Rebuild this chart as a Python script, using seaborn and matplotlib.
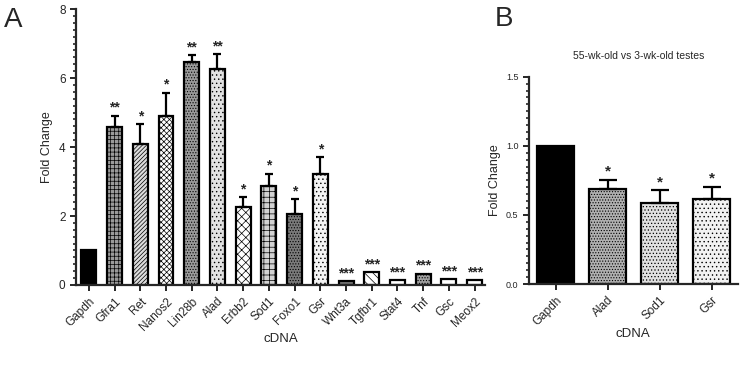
import matplotlib
matplotlib.use("Agg")
import matplotlib.pyplot as plt
import seaborn as sns
import numpy as np
import pandas as pd
from matplotlib.ticker import MultipleLocator

# ---- Data ----
genes_a = ["Gapdh", "Gfra1", "Ret", "Nanos2", "Lin28b", "Alad", "Erbb2", "Sod1",
           "Foxo1", "Gsr", "Wnt3a", "Tgfbr1", "Stat4", "Tnf", "Gsc", "Meox2"]
fold_a = [1.0, 4.58, 4.10, 4.91, 6.47, 6.27, 2.25, 2.88, 2.07, 3.22,
          0.12, 0.38, 0.14, 0.33, 0.18, 0.15]
err_a = [0.0, 0.33, 0.57, 0.67, 0.20, 0.42, 0.31, 0.35, 0.43, 0.48,
         0.0, 0.0, 0.0, 0.0, 0.0, 0.0]
stars_a = ["", "**", "*", "*", "**", "**", "*", "*", "*", "*",
           "***", "***", "***", "***", "***", "***"]

genes_b = ["Gapdh", "Alad", "Sod1", "Gsr"]
fold_b = [1.0, 0.69, 0.585, 0.615]
err_b = [0.0, 0.065, 0.095, 0.09]
stars_b = ["", "*", "*", "*"]

colors_a = ["#000000", "#9a9a9a", "#dddddd", "#ffffff", "#9a9a9a", "#e2e2e2",
            "#ffffff", "#d2d2d2", "#7a7a7a", "#f4f4f4", "#7a7a7a", "#ffffff",
            "#ffffff", "#a0a0a0", "#ffffff", "#ffffff"]
hatches_a = ["", "++++", "////////", "xxxxxx", "......", "....", "xxxx", "+++",
             "......", "....", "", "\\\\\\\\", "", "......", "", ""]
colors_b = ["#000000", "#b0b0b0", "#e0e0e0", "#f2f2f2"]
hatches_b = ["", "......", ".....", "...."]

sns.set_style("ticks")
plt.rcParams["font.family"] = ["Liberation Sans", "DejaVu Sans"]
plt.rcParams["hatch.linewidth"] = 0.5
plt.rcParams["hatch.color"] = "#000000"

fig = plt.figure(figsize=(7.5, 3.65), dpi=100)
axA = fig.add_axes([0.1013, 0.2192, 0.5453, 0.756])
axB = fig.add_axes([0.7053, 0.2219, 0.2783, 0.568])

dfA = pd.DataFrame({"gene": genes_a, "fold": fold_a})
dfB = pd.DataFrame({"gene": genes_b, "fold": fold_b})


def draw(ax, df, genes, vals, errs, stars, colors, hatches, width, capsize, star_fs):
    sns.barplot(data=df, x="gene", y="fold", hue="gene", order=genes, hue_order=genes,
                palette=colors, legend=False, width=width, ax=ax,
                edgecolor="black", linewidth=1.6, errorbar=None, saturation=1)
    for p, h in zip(ax.patches, hatches):
        p.set_hatch(h)
    x = np.arange(len(genes))
    e = np.array(errs)
    m = e > 0
    ax.errorbar(x[m], np.array(vals)[m], yerr=[np.zeros(m.sum()), e[m]],
                fmt="none", ecolor="black", elinewidth=1.6, capsize=capsize,
                capthick=1.6, zorder=3)
    for xi, v, er, s in zip(x, vals, errs, stars):
        if s:
            ax.annotate(s, (xi, v + er), xytext=(0, 0.5), textcoords="offset points",
                        ha="center", va="bottom", fontsize=star_fs, fontweight="bold")
    for sp in ["top", "right"]:
        ax.spines[sp].set_visible(False)
    for sp in ["left", "bottom"]:
        ax.spines[sp].set_linewidth(1.6)
    ax.tick_params(axis="both", which="major", width=1.4, length=4, direction="out")
    ax.tick_params(axis="y", which="minor", width=1.2, length=2.5, direction="out")


draw(axA, dfA, genes_a, fold_a, err_a, stars_a, colors_a, hatches_a, 0.58, 3, 10)
axA.set_ylim(0, 8)
axA.set_xlim(-0.5, 15.4)
axA.yaxis.set_major_locator(MultipleLocator(2))
axA.yaxis.set_minor_locator(MultipleLocator(0.2))
axA.set_ylabel("Fold Change", fontsize=9)
axA.set_xlabel("cDNA", fontsize=9.5, labelpad=0)
axA.tick_params(axis="y", labelsize=8.5)
axA.set_xticks(np.arange(len(genes_a)))
axA.set_xticklabels(genes_a, rotation=45, ha="right", rotation_mode="anchor", fontsize=8.5)

draw(axB, dfB, genes_b, fold_b, err_b, stars_b, colors_b, hatches_b, 0.70, 6.5, 11)
axB.set_ylim(0, 1.5)
axB.set_xlim(-0.51, 3.5)
axB.yaxis.set_major_locator(MultipleLocator(0.5))
axB.yaxis.set_minor_locator(MultipleLocator(0.05))
axB.yaxis.set_major_formatter(matplotlib.ticker.FormatStrFormatter("%.1f"))
axB.set_ylabel("Fold Change", fontsize=9)
axB.set_xlabel("cDNA", fontsize=9.5, labelpad=0)
axB.tick_params(axis="y", labelsize=6.5)
axB.set_xticks(np.arange(len(genes_b)))
axB.set_xticklabels(genes_b, rotation=45, ha="right", rotation_mode="anchor", fontsize=8.5)

fig.text(0.851, 0.847, "55-wk-old vs 3-wk-old testes", ha="center", va="center", fontsize=7.5)
fig.text(0.005, 0.945, "A", fontsize=20, ha="left", va="center")
fig.text(0.66, 0.948, "B", fontsize=20, ha="left", va="center")

fig.savefig("out.png", dpi=100)
